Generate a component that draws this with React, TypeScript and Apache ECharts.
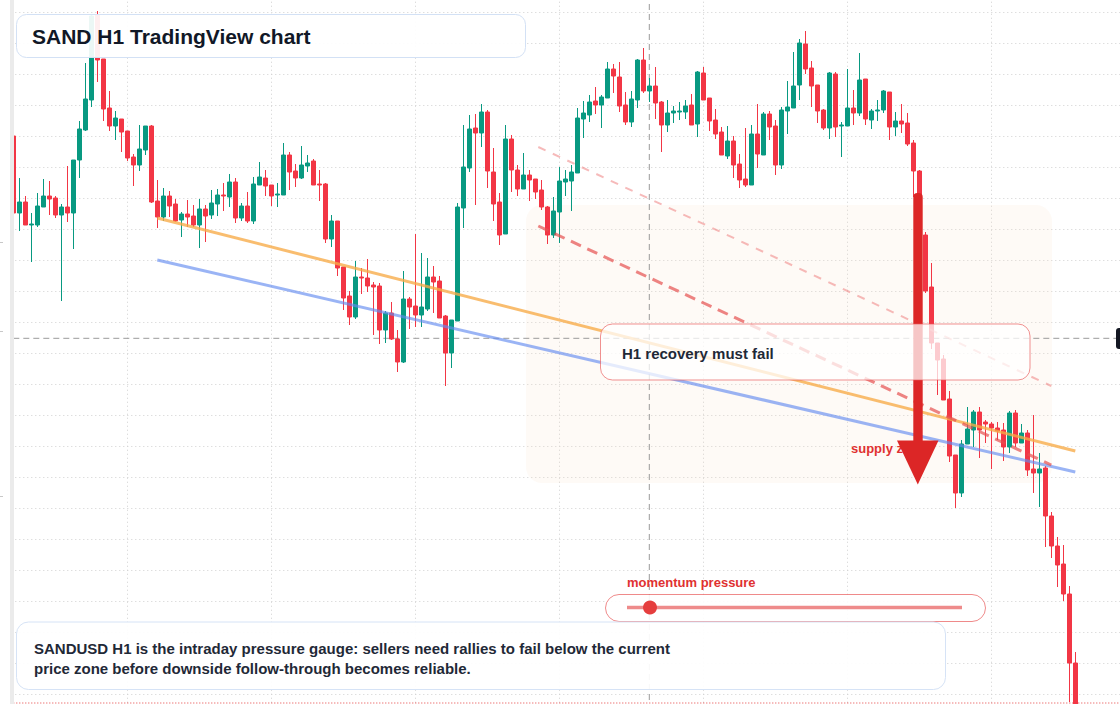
import React, { useEffect, useRef } from "react";
import * as echarts from "echarts";

// ---- SANDUSD H1 candles ----
const opens = [
  0.2864, 0.2787, 0.2798, 0.2775, 0.2775, 0.2793, 0.2804, 0.2802, 0.2785, 0.2793,
  0.2787, 0.2840, 0.2870, 0.2900, 0.2985, 0.2941, 0.2892, 0.2874, 0.2881, 0.2869,
  0.2843, 0.2835, 0.2850, 0.2874, 0.2799, 0.2783, 0.2804, 0.2796, 0.2780, 0.2786,
  0.2784, 0.2775, 0.2791, 0.2785, 0.2796, 0.2805, 0.2803, 0.2818, 0.2782, 0.2794,
  0.2779, 0.2815, 0.2822, 0.2815, 0.2805, 0.2805, 0.2845, 0.2829, 0.2822, 0.2834,
  0.2839, 0.2816, 0.2816, 0.2761, 0.2779, 0.2733, 0.2704, 0.2683, 0.2723, 0.2722,
  0.2715, 0.2714, 0.2670, 0.2687, 0.2661, 0.2638, 0.2701, 0.2694, 0.2685, 0.2691,
  0.2723, 0.2719, 0.2684, 0.2647, 0.2679, 0.2792, 0.2832, 0.2872, 0.2867, 0.2888,
  0.2828, 0.2798, 0.2766, 0.2861, 0.2830, 0.2811, 0.2825, 0.2821, 0.2810, 0.2793,
  0.2765, 0.2788, 0.2818, 0.2819, 0.2827, 0.2881, 0.2885, 0.2899, 0.2895, 0.2902,
  0.2931, 0.2923, 0.2895, 0.2878, 0.2900, 0.2940, 0.2909, 0.2914, 0.2898, 0.2875,
  0.2887, 0.2888, 0.2888, 0.2895, 0.2876, 0.2927, 0.2902, 0.2880, 0.2868, 0.2844,
  0.2859, 0.2836, 0.2821, 0.2815, 0.2866, 0.2845, 0.2886, 0.2874, 0.2835, 0.2889,
  0.2892, 0.2915, 0.2956, 0.2932, 0.2915, 0.2890, 0.2872, 0.2926, 0.2874, 0.2874,
  0.2892, 0.2887, 0.2921, 0.2880, 0.2889, 0.2890, 0.2908, 0.2873, 0.2879, 0.2877,
  0.2857, 0.2829, 0.2765, 0.2713, 0.2657, 0.2641, 0.2601, 0.2545, 0.2507, 0.2556,
  0.2570, 0.2588, 0.2578, 0.2576, 0.2572, 0.2570, 0.2553, 0.2587, 0.2557, 0.2567,
  0.2531, 0.2527, 0.2532, 0.2484, 0.2454, 0.2436, 0.2406, 0.2337,
];
const closes = [
  0.2787, 0.2798, 0.2775, 0.2776, 0.2794, 0.2804, 0.2801, 0.2785, 0.2793, 0.2787,
  0.2840, 0.2871, 0.2901, 0.2984, 0.2940, 0.2891, 0.2874, 0.2882, 0.2868, 0.2842,
  0.2835, 0.2851, 0.2874, 0.2798, 0.2783, 0.2804, 0.2794, 0.2779, 0.2786, 0.2783,
  0.2775, 0.2791, 0.2784, 0.2797, 0.2805, 0.2804, 0.2818, 0.2782, 0.2794, 0.2779,
  0.2816, 0.2823, 0.2814, 0.2804, 0.2806, 0.2845, 0.2828, 0.2822, 0.2835, 0.2837,
  0.2815, 0.2815, 0.2761, 0.2779, 0.2732, 0.2702, 0.2683, 0.2723, 0.2722, 0.2714,
  0.2713, 0.2670, 0.2687, 0.2661, 0.2638, 0.2701, 0.2693, 0.2685, 0.2693, 0.2723,
  0.2718, 0.2682, 0.2647, 0.2680, 0.2793, 0.2833, 0.2871, 0.2867, 0.2888, 0.2829,
  0.2796, 0.2765, 0.2861, 0.2830, 0.2811, 0.2825, 0.2820, 0.2808, 0.2793, 0.2765,
  0.2789, 0.2819, 0.2821, 0.2828, 0.2882, 0.2887, 0.2898, 0.2895, 0.2903, 0.2931,
  0.2924, 0.2894, 0.2878, 0.2901, 0.2940, 0.2909, 0.2914, 0.2897, 0.2875, 0.2887,
  0.2889, 0.2889, 0.2894, 0.2875, 0.2928, 0.2900, 0.2879, 0.2866, 0.2845, 0.2859,
  0.2835, 0.2820, 0.2815, 0.2866, 0.2846, 0.2886, 0.2873, 0.2835, 0.2890, 0.2893,
  0.2914, 0.2957, 0.2931, 0.2914, 0.2889, 0.2872, 0.2927, 0.2873, 0.2875, 0.2892,
  0.2887, 0.2920, 0.2881, 0.2889, 0.2890, 0.2909, 0.2873, 0.2879, 0.2876, 0.2856,
  0.2829, 0.2766, 0.2709, 0.2657, 0.2640, 0.2600, 0.2544, 0.2507, 0.2556, 0.2571,
  0.2588, 0.2570, 0.2576, 0.2572, 0.2569, 0.2553, 0.2587, 0.2557, 0.2567, 0.2530,
  0.2527, 0.2531, 0.2484, 0.2454, 0.2435, 0.2406, 0.2337, 0.2280,
];
const lows = [
  0.2786, 0.2769, 0.2775, 0.2738, 0.2773, 0.2793, 0.2785, 0.2782, 0.2699, 0.2778,
  0.2751, 0.2822, 0.2869, 0.2893, 0.2918, 0.2879, 0.2869, 0.2860, 0.2848, 0.2839,
  0.2814, 0.2829, 0.2845, 0.2797, 0.2772, 0.2779, 0.2783, 0.2778, 0.2763, 0.2773,
  0.2773, 0.2752, 0.2758, 0.2781, 0.2784, 0.2789, 0.2793, 0.2777, 0.2779, 0.2777,
  0.2776, 0.2815, 0.2804, 0.2794, 0.2793, 0.2805, 0.2810, 0.2813, 0.2821, 0.2828,
  0.2815, 0.2799, 0.2757, 0.2753, 0.2724, 0.2690, 0.2675, 0.2681, 0.2706, 0.2708,
  0.2665, 0.2656, 0.2657, 0.2660, 0.2628, 0.2637, 0.2671, 0.2673, 0.2673, 0.2689,
  0.2687, 0.2682, 0.2614, 0.2632, 0.2679, 0.2772, 0.2828, 0.2795, 0.2853, 0.2812,
  0.2779, 0.2755, 0.2766, 0.2808, 0.2804, 0.2811, 0.2799, 0.2801, 0.2790, 0.2756,
  0.2762, 0.2757, 0.2804, 0.2789, 0.2827, 0.2862, 0.2878, 0.2886, 0.2872, 0.2902,
  0.2907, 0.2888, 0.2875, 0.2873, 0.2892, 0.2907, 0.2898, 0.2881, 0.2848, 0.2868,
  0.2877, 0.2880, 0.2881, 0.2875, 0.2863, 0.2900, 0.2869, 0.2861, 0.2845, 0.2841,
  0.2822, 0.2812, 0.2813, 0.2815, 0.2832, 0.2845, 0.2860, 0.2825, 0.2831, 0.2866,
  0.2892, 0.2900, 0.2926, 0.2893, 0.2877, 0.2870, 0.2861, 0.2863, 0.2843, 0.2874,
  0.2875, 0.2884, 0.2875, 0.2871, 0.2879, 0.2887, 0.2860, 0.2864, 0.2867, 0.2854,
  0.2803, 0.2764, 0.2707, 0.2651, 0.2605, 0.2600, 0.2538, 0.2492, 0.2503, 0.2556,
  0.2553, 0.2542, 0.2557, 0.2531, 0.2560, 0.2539, 0.2547, 0.2553, 0.2557, 0.2524,
  0.2507, 0.2493, 0.2453, 0.2442, 0.2413, 0.2399, 0.2298, 0.2270,
];
const highs = [
  0.2866, 0.2822, 0.2804, 0.2787, 0.2807, 0.2821, 0.2819, 0.2804, 0.2796, 0.2834,
  0.2840, 0.2879, 0.2937, 0.2986, 0.2989, 0.2941, 0.2909, 0.2889, 0.2881, 0.2869,
  0.2846, 0.2875, 0.2874, 0.2875, 0.2820, 0.2812, 0.2809, 0.2801, 0.2788, 0.2800,
  0.2795, 0.2801, 0.2795, 0.2810, 0.2811, 0.2817, 0.2826, 0.2822, 0.2797, 0.2808,
  0.2823, 0.2838, 0.2830, 0.2815, 0.2817, 0.2857, 0.2848, 0.2836, 0.2854, 0.2845,
  0.2841, 0.2830, 0.2817, 0.2785, 0.2779, 0.2733, 0.2709, 0.2739, 0.2732, 0.2741,
  0.2718, 0.2717, 0.2689, 0.2698, 0.2670, 0.2729, 0.2703, 0.2766, 0.2747, 0.2742,
  0.2734, 0.2724, 0.2685, 0.2680, 0.2797, 0.2875, 0.2885, 0.2886, 0.2896, 0.2890,
  0.2852, 0.2807, 0.2875, 0.2865, 0.2835, 0.2847, 0.2830, 0.2821, 0.2820, 0.2794,
  0.2803, 0.2833, 0.2830, 0.2835, 0.2892, 0.2899, 0.2905, 0.2913, 0.2905, 0.2938,
  0.2936, 0.2938, 0.2908, 0.2909, 0.2941, 0.2952, 0.2922, 0.2933, 0.2899, 0.2900,
  0.2894, 0.2898, 0.2900, 0.2906, 0.2929, 0.2933, 0.2902, 0.2891, 0.2873, 0.2874,
  0.2864, 0.2846, 0.2872, 0.2875, 0.2896, 0.2888, 0.2889, 0.2880, 0.2893, 0.2919,
  0.2948, 0.2961, 0.2969, 0.2939, 0.2915, 0.2891, 0.2928, 0.2928, 0.2878, 0.2931,
  0.2910, 0.2947, 0.2921, 0.2891, 0.2900, 0.2910, 0.2908, 0.2888, 0.2896, 0.2887,
  0.2860, 0.2830, 0.2768, 0.2737, 0.2657, 0.2645, 0.2609, 0.2545, 0.2560, 0.2593,
  0.2590, 0.2593, 0.2580, 0.2578, 0.2578, 0.2577, 0.2589, 0.2590, 0.2576, 0.2570,
  0.2585, 0.2547, 0.2534, 0.2488, 0.2463, 0.2455, 0.2414, 0.2348,
];

// hourly time slots (5 before the first visible candle, some empty after)
const LEAD = 5;
const SLOTS = 191;
const START = Date.UTC(2025, 0, 1, 0);
const timeLabels = Array.from({ length: SLOTS }, (_, k) => {
  const d = new Date(START + k * 3600000);
  const p = (n: number) => String(n).padStart(2, "0");
  return `${p(d.getUTCMonth() + 1)}-${p(d.getUTCDate())} ${p(d.getUTCHours())}:00`;
});

// trend lines [slot, price]
const orangeTrend = [[29, 0.2782], [182, 0.2549]];
const blueTrend = [[29, 0.2740], [182, 0.2528]];
const redDashMain = [[92.5, 0.2774], [178, 0.2535]];
const redDashLight = [[92.5, 0.2853], [178, 0.2614]];

// levels
const crosshairSlot = 111;
const crosshairPrice = 0.26617;
const targetPrice = 0.2297;

const FONT = '"Liberation Sans", Arial, Helvetica, sans-serif';

export default function App() {
  const ref = useRef<HTMLDivElement>(null);

  useEffect(() => {
    document.body.style.margin = "0";
    if (!ref.current) return;
    const chart = echarts.init(ref.current, undefined, { renderer: "svg" });

    const candles = opens.map((o, i) => [timeLabels[i + LEAD], o, closes[i], lows[i], highs[i]]);

    const dotted = { color: "#d0d0d0", width: 1, type: [1, 3] as any };
    const hidden = {
      axisLine: { show: false },
      axisTick: { show: false },
      axisLabel: { show: false },
    };

    chart.setOption({
      animation: false,
      backgroundColor: "#ffffff",
      grid: {
        left: -16.7, right: -3.3, top: -18.27, bottom: -21.0,
        containLabel: false,
        outerBoundsMode: "none",
      },
      xAxis: [
        { type: "category", data: timeLabels, boundaryGap: false, ...hidden, splitLine: { show: false } },
        { type: "value", min: 0, max: SLOTS - 1, interval: 24, ...hidden, splitLine: { show: true, lineStyle: dotted } },
      ],
      yAxis: [
        { type: "value", min: 0.2275, max: 0.301827, ...hidden, splitLine: { show: false } },
        { type: "value", min: 0, max: 24, interval: 1, ...hidden, splitLine: { show: true, lineStyle: dotted } },
      ],
      series: [
        {
          type: "candlestick",
          xAxisIndex: 0,
          yAxisIndex: 0,
          data: candles,
          encode: { x: 0, y: [1, 2, 3, 4] },
          barWidth: 4,
          z: 2,
          itemStyle: {
            color: "#089981",
            color0: "#f23645",
            borderColor: "#089981",
            borderColor0: "#f23645",
            borderWidth: 1,
          },
        },
        // crosshair (vertical / horizontal) and target level
        {
          type: "line", xAxisIndex: 1, yAxisIndex: 0, symbol: "none", z: 1, silent: true,
          data: [[crosshairSlot, 0.2], [crosshairSlot, 0.35]],
          lineStyle: { color: "#9a9a9a", width: 1, type: [6, 4] },
        },
        {
          type: "line", xAxisIndex: 1, yAxisIndex: 0, symbol: "none", z: 1, silent: true,
          data: [[0, crosshairPrice], [SLOTS - 1, crosshairPrice]],
          lineStyle: { color: "#9a9a9a", width: 1, type: [6, 4] },
        },
        {
          type: "line", xAxisIndex: 1, yAxisIndex: 0, symbol: "none", z: 1, silent: true,
          data: [[0, targetPrice], [SLOTS - 1, targetPrice]],
          lineStyle: { color: "#e53e3e", width: 1, type: [1, 2] },
        },
        {
          type: "line", xAxisIndex: 1, yAxisIndex: 0, data: orangeTrend, symbol: "none", z: 3,
          lineStyle: { color: "rgba(247,170,70,0.78)", width: 3 },
        },
        {
          type: "line", xAxisIndex: 1, yAxisIndex: 0, data: blueTrend, symbol: "none", z: 3,
          lineStyle: { color: "rgba(100,140,240,0.65)", width: 3 },
        },
        {
          type: "line", xAxisIndex: 1, yAxisIndex: 0, data: redDashMain, symbol: "none", z: 3,
          lineStyle: { color: "rgba(229,80,80,0.7)", width: 3, type: [11, 7] },
        },
        {
          type: "line", xAxisIndex: 1, yAxisIndex: 0, data: redDashLight, symbol: "none", z: 3,
          lineStyle: { color: "rgba(238,130,130,0.55)", width: 2, type: [8, 8] },
        },
      ],
      graphic: [
        // supply zone
        {
          type: "rect", z: 1, silent: true,
          shape: { x: 526, y: 205, width: 526, height: 278, r: 16 },
          style: { fill: "rgba(250,226,200,0.16)" },
        },
        // left gutter
        { type: "rect", z: 100, silent: true, shape: { x: 0, y: 0, width: 10, height: 704 }, style: { fill: "#ffffff" } },
        { type: "rect", z: 100, silent: true, shape: { x: 10, y: 0, width: 4, height: 704 }, style: { fill: "#ebebeb" } },
        { type: "line", z: 101, silent: true, shape: { x1: 0, y1: 242.5, x2: 3, y2: 242.5 }, style: { stroke: "#c8c8c8", lineWidth: 1 } },
        { type: "line", z: 101, silent: true, shape: { x1: 0, y1: 331.5, x2: 3, y2: 331.5 }, style: { stroke: "#c8c8c8", lineWidth: 1 } },
        { type: "line", z: 101, silent: true, shape: { x1: 0, y1: 496.5, x2: 3, y2: 496.5 }, style: { stroke: "#c8c8c8", lineWidth: 1 } },
        // right price tag (clipped)
        { type: "rect", z: 100, silent: true, shape: { x: 1116, y: 328, width: 12, height: 21, r: 3 }, style: { fill: "#131722" } },
        // supply zone label
        {
          type: "text", z: 40, x: 851, y: 448,
          style: { text: "supply zone", fill: "#e03131", font: `bold 13px ${FONT}`, verticalAlign: "middle" },
        },
        // down arrow
        {
          type: "rect", z: 45, silent: true,
          shape: { x: 913.3, y: 193, width: 9.4, height: 250, r: [4, 4, 0, 0] },
          style: { fill: "#dc2626" },
        },
        {
          type: "polygon", z: 45, silent: true,
          shape: { points: [[897, 440.5], [938.5, 440.5], [917.8, 484.5]] },
          style: { fill: "#dc2626" },
        },
        // title box
        {
          type: "rect", z: 50, silent: true,
          shape: { x: 16.5, y: 14.5, width: 509, height: 43, r: 10 },
          style: { fill: "rgba(255,255,255,0.92)", stroke: "#d3e1f5", lineWidth: 1 },
        },
        {
          type: "text", z: 51, x: 32, y: 36.5,
          style: { text: "SAND H1 TradingView chart", fill: "#111827", font: `bold 21px ${FONT}`, verticalAlign: "middle" },
        },
        // recovery box
        {
          type: "rect", z: 50, silent: true,
          shape: { x: 600.5, y: 324, width: 429.5, height: 56, r: 12 },
          style: { fill: "rgba(255,255,255,0.74)", stroke: "rgba(232,88,88,0.65)", lineWidth: 1 },
        },
        {
          type: "text", z: 51, x: 622, y: 353.5,
          style: { text: "H1 recovery must fail", fill: "#1f2937", font: `bold 15px ${FONT}`, verticalAlign: "middle" },
        },
        // momentum gauge
        {
          type: "text", z: 51, x: 627, y: 582.5,
          style: { text: "momentum pressure", fill: "#e03131", font: `bold 13px ${FONT}`, verticalAlign: "middle" },
        },
        {
          type: "rect", z: 50, silent: true,
          shape: { x: 605.5, y: 594.5, width: 380, height: 27, r: 13.5 },
          style: { fill: "rgba(255,255,255,0.9)", stroke: "rgba(232,88,88,0.7)", lineWidth: 1 },
        },
        {
          type: "line", z: 51, silent: true,
          shape: { x1: 627, y1: 607.5, x2: 962, y2: 607.5 },
          style: { stroke: "rgba(232,100,100,0.75)", lineWidth: 3.5 },
        },
        {
          type: "circle", z: 52, silent: true,
          shape: { cx: 650, cy: 607.5, r: 7 },
          style: { fill: "#e53e3e" },
        },
        // commentary box
        {
          type: "rect", z: 50, silent: true,
          shape: { x: 16.5, y: 622, width: 929, height: 67.5, r: 12 },
          style: { fill: "rgba(255,255,255,0.92)", stroke: "#d6e3f6", lineWidth: 1 },
        },
        {
          type: "text", z: 51, x: 34, y: 648,
          style: {
            text: "SANDUSD H1 is the intraday pressure gauge: sellers need rallies to fail below the current",
            fill: "#1f2937", font: `bold 15px ${FONT}`, verticalAlign: "middle",
          },
        },
        {
          type: "text", z: 51, x: 34, y: 668,
          style: {
            text: "price zone before downside follow-through becomes reliable.",
            fill: "#1f2937", font: `bold 15px ${FONT}`, verticalAlign: "middle",
          },
        },
      ],
    });

    return () => chart.dispose();
  }, []);

  return <div ref={ref} style={{ width: 1120, height: 704 }} />;
}
